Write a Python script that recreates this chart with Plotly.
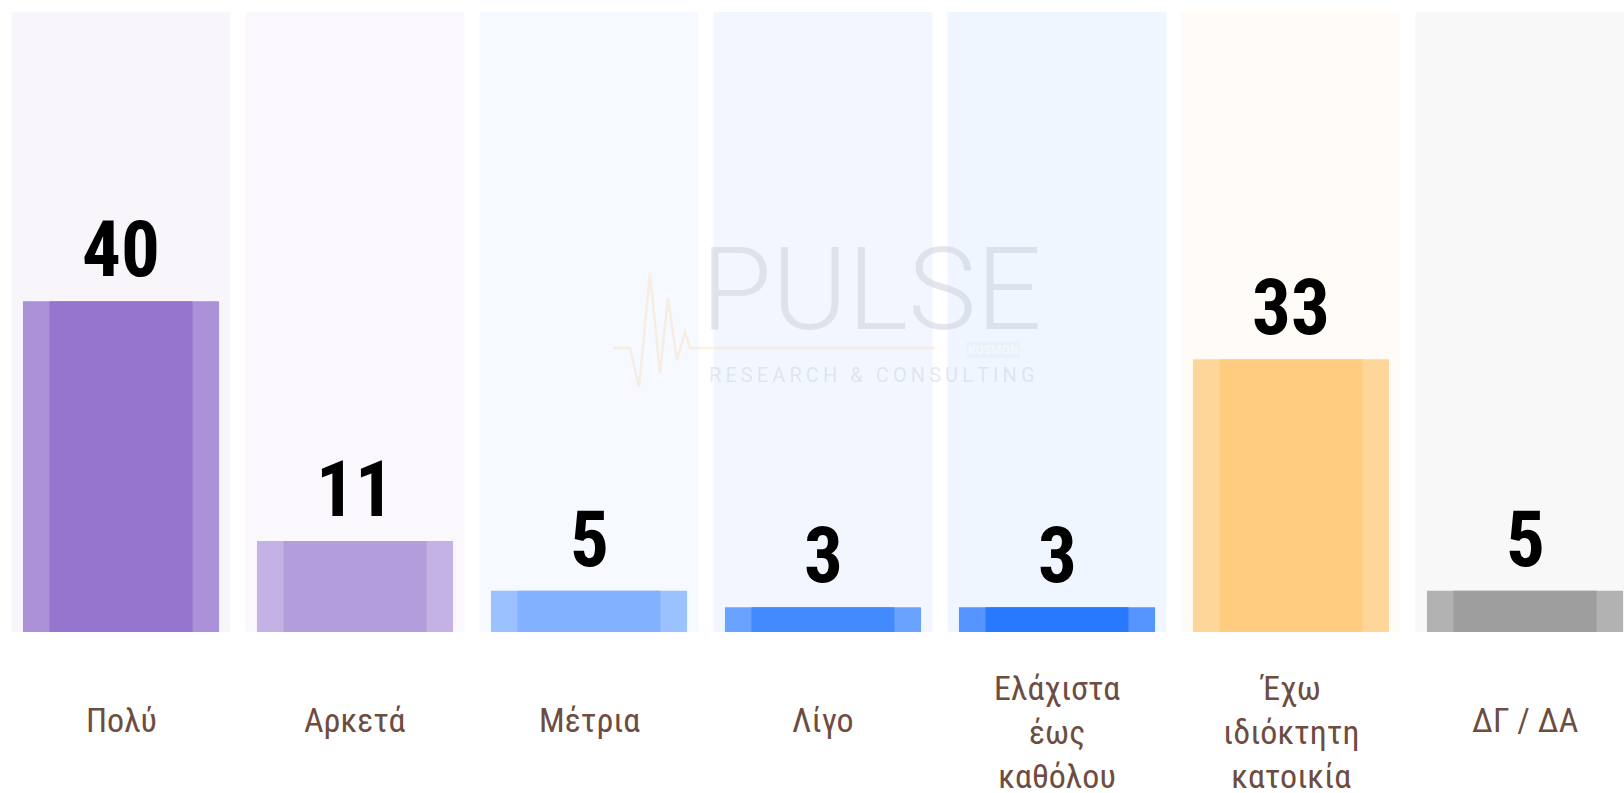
import plotly.graph_objects as go

categories = ["Πολύ", "Αρκετά", "Μέτρια", "Λίγο", "Ελάχιστα\nέως\nκαθόλου", "Έχω\nιδιόκτητη\nκατοικία", "ΔΓ / ΔΑ"]
values = [40, 11, 5, 3, 3, 33, 5]
bar_colors = ["#9575CD", "#B39DDB", "#82B1FF", "#448AFF", "#2979FF", "#FFCC80", "#9E9E9E"]
Y_MAX = 75

W, H = 1624, 793
PLOT_L, PLOT_T, PLOT_W, PLOT_H = 4, 12, 1620, 620


def rgba(hex_color, a):
    h = hex_color.lstrip("#")
    r, g, b = int(h[0:2], 16), int(h[2:4], 16), int(h[4:6], 16)
    return f"rgba({r},{g},{b},{a})"


def px(x):
    return (x - PLOT_L) / PLOT_W


def py(y):
    return (PLOT_T + PLOT_H - y) / PLOT_H


fig = go.Figure()

# pale column behind each bar
fig.add_trace(go.Bar(
    x=categories, y=[Y_MAX] * len(categories), width=0.936,
    marker=dict(color=[rgba(c, 0.07) for c in bar_colors], line=dict(width=0)),
    hoverinfo="skip",
))
# lighter outer bar, then darker core on top
fig.add_trace(go.Bar(
    x=categories, y=values, width=0.838,
    marker=dict(color=[rgba(c, 0.78) for c in bar_colors], line=dict(width=0)),
    hoverinfo="skip",
))
fig.add_trace(go.Bar(
    x=categories, y=values, width=0.611,
    marker=dict(color=bar_colors, line=dict(width=0)),
    hovertemplate="%{y}<extra></extra>",
))

annotations = []
for cat, v in zip(categories, values):
    annotations.append(dict(
        x=cat, y=v, xref="x", yref="y", text=str(v), showarrow=False,
        yanchor="bottom", yshift=4,
        font=dict(family="Roboto Condensed, Roboto, sans-serif", size=77, color="#000000", weight="bold"),
    ))
    n = cat.count("\n") + 1
    annotations.append(dict(
        x=cat, y=0, xref="x", yref="paper", text=cat.replace("\n", "<br>"), showarrow=False,
        yanchor="middle", yshift=-(88 + 6 * (n - 1)),
        font=dict(family="Roboto Condensed, Roboto, sans-serif", size=34, color="#6D4C41"),
    ))

# faint PULSE watermark
annotations += [
    dict(x=px(872), y=py(289), xref="paper", yref="paper", text="PULSE", showarrow=False,
         xanchor="center", yanchor="middle",
         font=dict(family="Roboto, sans-serif", size=115, color="rgba(195,200,215,0.45)", weight=300)),
    dict(x=px(872), y=py(375), xref="paper", yref="paper",
         text="\u2009".join("RESEARCH & CONSULTING"), showarrow=False,
         xanchor="center", yanchor="middle",
         font=dict(family="Roboto, sans-serif", size=20, color="rgba(200,205,218,0.45)")),
    dict(x=px(993), y=py(350), xref="paper", yref="paper", text="<b>KOSMON</b>", showarrow=False,
         xanchor="center", yanchor="middle", bgcolor="rgba(215,220,230,0.18)", borderpad=1,
         font=dict(family="Roboto, sans-serif", size=12, color="rgba(255,255,255,0.5)")),
]

pulse_x = [613, 630, 639, 650, 660, 668, 677, 685, 690, 935]
pulse_y = [348, 348, 387, 273, 373, 298, 360, 332, 348, 348]
path = "M " + " L ".join(f"{px(a):.5f},{py(b):.5f}" for a, b in zip(pulse_x, pulse_y))

fig.update_layout(
    width=W, height=H,
    barmode="overlay",
    showlegend=False,
    plot_bgcolor="white",
    paper_bgcolor="white",
    margin=dict(l=PLOT_L, r=W - PLOT_L - PLOT_W, t=PLOT_T, b=H - PLOT_T - PLOT_H),
    xaxis=dict(range=[-0.5, -0.5 + PLOT_W / 234], showticklabels=False, showgrid=False,
               zeroline=False, showline=False, fixedrange=True),
    yaxis=dict(range=[0, Y_MAX], showticklabels=False, showgrid=False,
               zeroline=False, showline=False, fixedrange=True),
    annotations=annotations,
    shapes=[dict(type="path", path=path, xref="paper", yref="paper", layer="above",
                 line=dict(color="rgba(250,215,170,0.35)", width=2.5))],
)

# the page's default 8px body margin would push the chart off the window
fig.write_html("out.html", config={"displayModeBar": False},
               post_script="document.body.style.margin='0';")
